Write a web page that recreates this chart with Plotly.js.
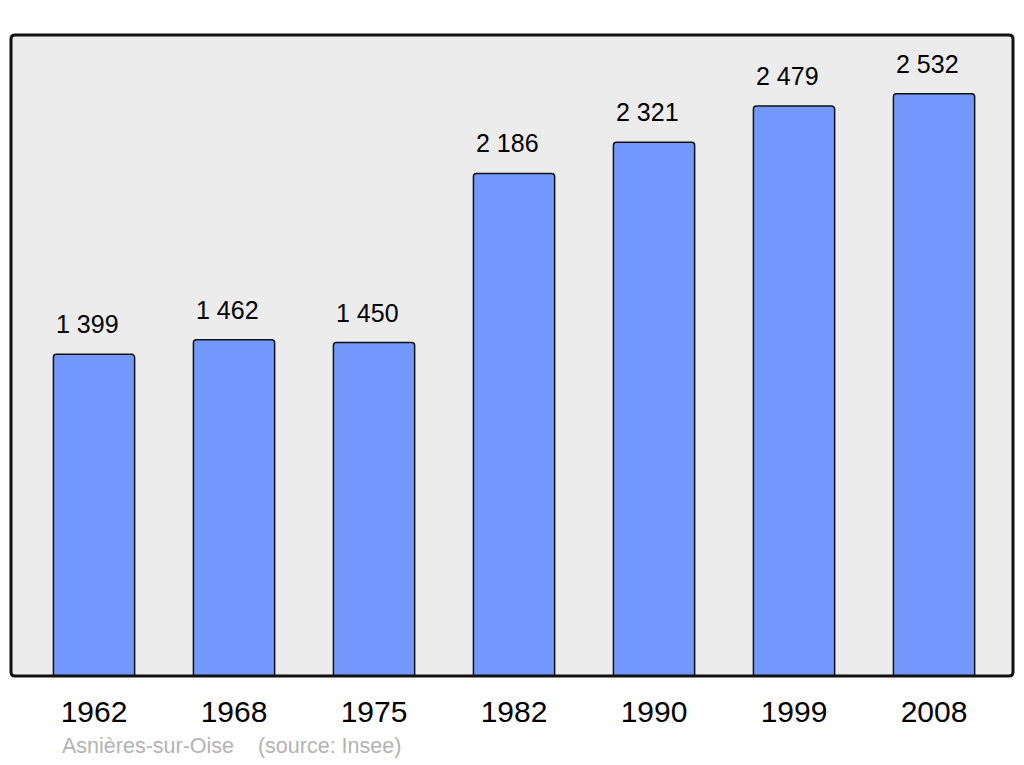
<!DOCTYPE html>
<html>
<head>
<meta charset="utf-8">
<script src="https://cdn.plot.ly/plotly-3.0.1.min.js"></script>
<style>html,body{margin:0;padding:0;background:#fff}#chart{width:1024px;height:765px}</style>
</head>
<body>
<div id="chart"></div>
<script>
const years = ["1962", "1968", "1975", "1982", "1990", "1999", "2008"];
const population = [1399, 1462, 1450, 2186, 2321, 2479, 2532];
const valueLabels = ["1 399", "1 462", "1 450", "2 186", "2 321", "2 479", "2 532"];
const caption = "Asnières-sur-Oise &#160;&#160;&#160;(source: Insee)";

const W = 1024, H = 765;
const m = {l: 11, r: 11, t: 35, b: 89};
const pw = W - m.l - m.r, ph = H - m.t - m.b;
const rx = 4 / pw, ry = 4 / ph;
const framePath = `M ${rx} 0 L ${1 - rx} 0 Q 1 0 1 ${ry} L 1 ${1 - ry} Q 1 1 ${1 - rx} 1 L ${rx} 1 Q 0 1 0 ${1 - ry} L 0 ${ry} Q 0 0 ${rx} 0 Z`;

const trace = {
  type: "bar",
  x: years,
  y: population,
  width: 0.58,
  marker: {color: "#7399ff", line: {color: "#111", width: 1.5}, cornerradius: 3},
  hoverinfo: "x+y"
};

const annotations = years.map((yr, i) => ({
  x: i, y: population[i], xref: "x", yref: "y",
  text: valueLabels[i], showarrow: false,
  xanchor: "center", yanchor: "bottom", xshift: -7, yshift: 14,
  font: {family: "Liberation Sans, Arial, sans-serif", size: 25, color: "#000"}
}));
annotations.push({
  xref: "paper", yref: "paper", x: (60 - m.l) / pw, y: (676 - 746) / ph,
  xanchor: "left", yanchor: "middle", showarrow: false, text: caption,
  font: {family: "Liberation Sans, Arial, sans-serif", size: 21.5, color: "#b3b3b3"}
});

const layout = {
  width: W, height: H,
  margin: m,
  paper_bgcolor: "#ffffff",
  plot_bgcolor: "#ececec",
  showlegend: false,
  bargap: 0.42,
  xaxis: {
    type: "category",
    range: [-0.593, 6.564],
    showgrid: false, zeroline: false, showline: false, ticks: "",
    ticklabelstandoff: 15,
    tickfont: {family: "Liberation Sans, Arial, sans-serif", size: 30, color: "#000"},
    fixedrange: true
  },
  yaxis: {
    range: [0, 2788],
    showgrid: false, zeroline: false, showline: false, showticklabels: false, ticks: "",
    fixedrange: true
  },
  shapes: [{
    type: "path", xref: "paper", yref: "paper", path: framePath,
    line: {color: "#111", width: 3}, layer: "above"
  }],
  annotations: annotations
};

Plotly.newPlot("chart", [trace], layout, {displayModeBar: false, staticPlot: true});
</script>
</body>
</html>
